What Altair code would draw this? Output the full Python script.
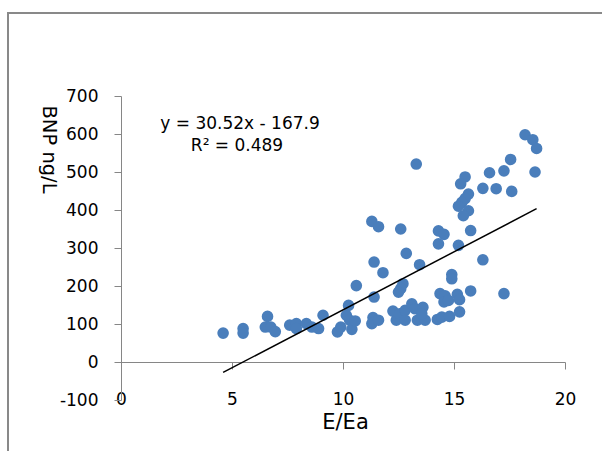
import altair as alt
import pandas as pd

# ---- data ----
E_Ea = [4.6, 5.5, 5.5, 6.6, 6.5, 6.75, 6.95, 7.6, 7.9, 7.9,
        8.35, 8.6, 8.9, 9.1, 9.75, 9.9, 10.15, 10.25, 10.3, 10.4,
        10.55, 10.6, 11.3, 11.6, 11.4, 11.8, 11.4, 11.35, 11.3, 11.6,
        12.6, 12.85, 13.45, 12.7, 12.6, 12.5, 12.25, 12.4, 12.55, 12.8,
        12.8, 13.1, 13.25, 13.35, 13.6, 13.7, 13.55, 13.3, 14.25, 14.45,
        14.8, 14.37, 14.6, 14.55, 14.75, 14.9, 14.9, 14.3, 14.3, 14.55,
        15.2, 15.25, 15.15, 15.25, 15.75, 16.3, 15.75, 17.25, 18.2, 18.55,
        18.72, 18.65, 17.55, 17.25, 16.6, 16.3, 16.9, 17.6, 15.5, 15.3,
        15.65, 15.5, 15.35, 15.2, 15.65, 15.42]
BNP = [76, 88, 76, 120, 92, 92, 80, 97, 101, 88,
       101, 92, 88, 123, 79, 92, 123, 149, 110, 86,
       108, 201, 370, 356, 263, 235, 171, 117, 101, 110,
       350, 286, 256, 206, 193, 184, 134, 110, 127, 136,
       110, 153, 140, 110, 144, 110, 127, 521, 112, 118,
       120, 180, 174, 158, 162, 230, 219, 311, 345, 336,
       307, 132, 178, 164, 346, 269, 187, 180, 598, 585,
       562, 500, 533, 503, 498, 457, 456, 449, 487, 469,
       442, 430, 420, 410, 398, 385]

SLOPE = 30.52
INTERCEPT = -167.9
R2 = 0.489

x_ticks = [0, 5, 10, 15, 20]
y_ticks = [-100, 0, 100, 200, 300, 400, 500, 600, 700]

df = pd.DataFrame({"E/Ea": E_Ea, "BNP": BNP})
trend = pd.DataFrame({"E/Ea": [min(E_Ea), max(E_Ea)]})
one = pd.DataFrame({"k": [0]})

FONT = "DejaVu Sans"
AX = "#868686"

xscale = alt.Scale(domain=[0, 20], nice=False, zero=False)
yscale = alt.Scale(domain=[-100, 700], nice=False)

x_axis = alt.Axis(values=x_ticks, title="E/Ea", offset=-38, grid=False,
                  domainColor=AX, tickColor=AX, tickSize=7, labelPadding=22,
                  labelFontSize=17, labelFont=FONT, labelColor="black",
                  labelFlush=False, labelOverlap=False,
                  labelExpr="'' + datum.value",
                  titleFont=FONT, titleFontSize=21, titleFontWeight="normal",
                  titleColor="black", titleX=224, titleY=66,
                  titleBaseline="alphabetic", titleAlign="center")
y_axis = alt.Axis(values=y_ticks, title="BNP ng/L", grid=False,
                  domainColor=AX, tickColor=AX, tickSize=7, labelPadding=16,
                  labelFontSize=17, labelFont=FONT, labelColor="black",
                  labelFlush=False, labelOverlap=False,
                  labelExpr="'' + datum.value",
                  titleFont=FONT, titleFontSize=19.5, titleFontWeight="normal",
                  titleColor="black", titleAngle=90, titleX=-73, titleY=53,
                  titleAlign="center", titleBaseline="middle")

frame = alt.Chart(one).mark_rect(fillOpacity=0, stroke="#898989", strokeWidth=2).encode(
    x=alt.value(-113), x2=alt.value(530), y=alt.value(-83), y2=alt.value(420))

points = alt.Chart(df).mark_circle(size=135, color="#4A7EBB", opacity=1).encode(
    x=alt.X("E/Ea:Q", scale=xscale, axis=x_axis),
    y=alt.Y("BNP:Q", scale=yscale, axis=y_axis),
)

line = alt.Chart(trend).transform_calculate(
    fit=f"datum['E/Ea'] * {SLOPE} + ({INTERCEPT})"
).mark_line(color="black", strokeWidth=1.5).encode(
    x=alt.X("E/Ea:Q", scale=xscale, axis=x_axis),
    y=alt.Y("fit:Q", scale=yscale, axis=y_axis),
)

eq = alt.Chart(one).mark_text(
    text=f"y = {SLOPE}x - {abs(INTERCEPT)}", font=FONT, fontSize=17,
    align="center", baseline="alphabetic", color="black"
).encode(x=alt.value(119), y=alt.value(33))

r2 = alt.Chart(one).mark_text(
    text=f"R² = {R2}", font=FONT, fontSize=17,
    align="center", baseline="alphabetic", color="black"
).encode(x=alt.value(116), y=alt.value(55))

chart = alt.layer(frame, points, line, eq, r2).properties(
    width=444, height=304,
    autosize=alt.AutoSizeParams(type="none"),
    padding={"left": 121, "top": 96, "right": 37, "bottom": 51},
    background="white",
).configure_view(strokeWidth=0)

chart.save("out.html", embed_options={"renderer": "svg", "actions": False})
